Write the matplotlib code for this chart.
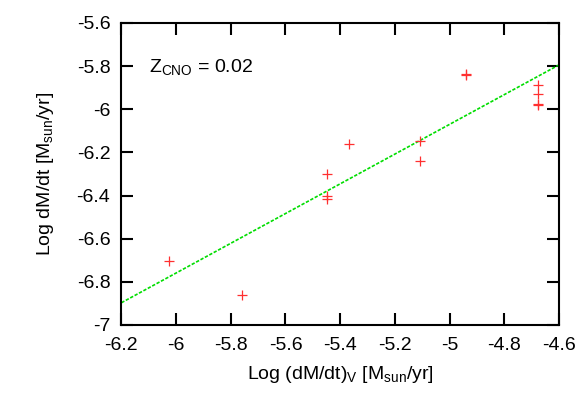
import numpy as np
import matplotlib
matplotlib.use("Agg")
import matplotlib.pyplot as plt
from matplotlib.ticker import FuncFormatter, MultipleLocator

# 数据点
mdot_v = [-6.025, -5.760, -5.447, -5.447, -5.447, -5.369, -5.107, -5.107,
          -4.939, -4.939, -4.677, -4.677, -4.677, -4.677]
mdot = [-6.703, -6.862, -6.300, -6.402, -6.417, -6.162, -6.146, -6.238,
        -5.841, -5.836, -5.887, -5.930, -5.977, -5.982]

# 拟合直线
FIT_SLOPE = 0.689
FIT_INTERCEPT = -2.625
FIT_RANGE = [-6.2, -4.6]

plt.rcParams["font.family"] = ["Liberation Sans", "DejaVu Sans"]
plt.rcParams["mathtext.default"] = "regular"
plt.rcParams["font.size"] = 14

fig = plt.figure(figsize=(5.81, 4.07), dpi=100)
ax = fig.add_axes([0.209, 0.2015, 0.753, 0.742])

xs = np.array(FIT_RANGE)
ax.plot(xs, FIT_SLOPE * xs + FIT_INTERCEPT, color="#00dd00", linestyle=(0, (2, 1)),
        linewidth=1.2)
ax.plot(mdot_v, mdot, linestyle="none", marker="+", color="#ff3030",
        markersize=7.5, markeredgewidth=0.9)

ax.text(-6.099, -5.827, "Z$_{CNO}$ = 0.02", fontsize=14, va="baseline", ha="left")

ax.set_xlim(-6.2, -4.6)
ax.set_ylim(-7, -5.6)
ax.xaxis.set_major_locator(MultipleLocator(0.2))
ax.yaxis.set_major_locator(MultipleLocator(0.2))
fmt = FuncFormatter(lambda v, p: "%g" % round(v, 2))
ax.xaxis.set_major_formatter(fmt)
ax.yaxis.set_major_formatter(fmt)
ax.tick_params(direction="in", top=True, right=True, length=8.5, width=1.5,
               labelsize=14)
ax.tick_params(axis="x", pad=8.5)
ax.tick_params(axis="y", pad=8)
for s in ax.spines.values():
    s.set_linewidth(1.5)

ax.set_xlabel("Log (dM/dt)$_V$ [M$_{sun}$/yr]", fontsize=14, labelpad=7)
ax.set_ylabel("Log dM/dt [M$_{sun}$/yr]", fontsize=14, labelpad=15)

fig.savefig("out.png", dpi=100)
